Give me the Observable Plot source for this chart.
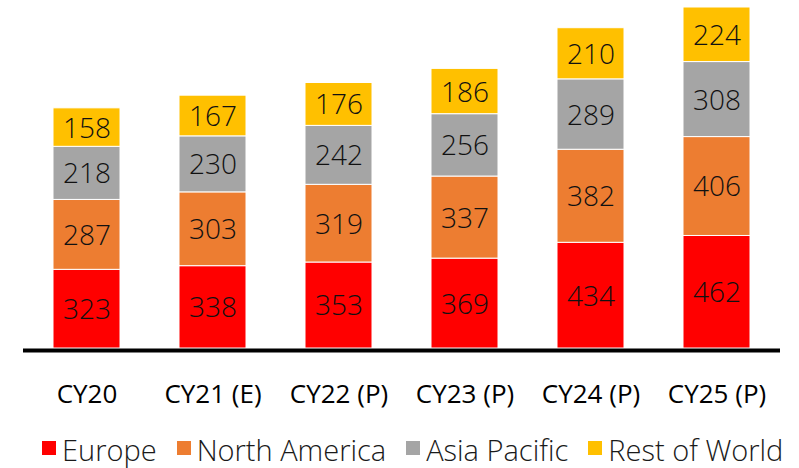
<!DOCTYPE html>
<html>
<head>
<meta charset="utf-8">
<script src="https://cdn.jsdelivr.net/npm/d3@7"></script>
<script src="https://cdn.jsdelivr.net/npm/@observablehq/plot@0.6"></script>
<style>
  html, body { margin: 0; padding: 0; background: #fff; }
  body { width: 799px; height: 468px; overflow: hidden; font-family: "Open Sans", sans-serif; }
  #chart svg { display: block; }
  #legend { display: flex; align-items: center; height: 36px; margin-top: 7px; padding-left: 42px; font-size: 29px; line-height: 36px; font-weight: 300; color: #1a1a1a; white-space: nowrap; }
  .item { display: flex; align-items: center; margin-right: 20px; }
  .sw { width: 14px; height: 14px; margin-right: 6px; position: relative; top: -2px; }
</style>
</head>
<body>
<div id="chart"></div>
<div id="legend"></div>
<script>
const categories = ["CY20", "CY21 (E)", "CY22 (P)", "CY23 (P)", "CY24 (P)", "CY25 (P)"];
const seriesNames = ["Europe", "North America", "Asia Pacific", "Rest of World"];
const seriesColors = ["#FF0000", "#ED7D31", "#A5A5A5", "#FFC000"];
const europe = [323, 338, 353, 369, 434, 462];
const northAmerica = [287, 303, 319, 337, 382, 406];
const asiaPacific = [218, 230, 242, 256, 289, 308];
const restOfWorld = [158, 167, 176, 186, 210, 224];

const seriesValues = [europe, northAmerica, asiaPacific, restOfWorld];
const data = [];
seriesNames.forEach((s, i) => {
  categories.forEach((c, j) => {
    data.push({category: c, series: s, value: seriesValues[i][j]});
  });
});

const chart = Plot.plot({
  width: 799,
  height: 425,
  marginTop: 7,
  marginBottom: 77,
  marginLeft: 23,
  marginRight: 19,
  style: {fontFamily: "'Open Sans', sans-serif", background: "white"},
  x: {domain: categories, paddingInner: 0.47, paddingOuter: 0.235, label: null, tickSize: 0, tickPadding: 36, fontSize: 26},
  y: {domain: [0, 1400], axis: null},
  color: {domain: seriesNames, range: seriesColors},
  marks: [
    Plot.barY(data, Plot.stackY({x: "category", y: "value", z: "series", fill: "series", stroke: "white", strokeWidth: 1})),
    Plot.textY(data, Plot.stackY({x: "category", y: "value", z: "series", text: d => String(d.value), fill: "#111", fontSize: 28, fontWeight: 300, dy: 1})),
    Plot.ruleY([0], {stroke: "black", strokeWidth: 4, dy: 2}),
    Plot.axisX({tickSize: 0, tickPadding: 36, fontSize: 26, fontWeight: 400, fill: "black", label: null})
  ]
});
document.getElementById("chart").appendChild(chart);

const legend = document.getElementById("legend");
seriesNames.forEach((s, i) => {
  const item = document.createElement("div");
  item.className = "item";
  const sw = document.createElement("div");
  sw.className = "sw";
  sw.style.background = seriesColors[i];
  const t = document.createElement("span");
  t.textContent = s;
  item.appendChild(sw);
  item.appendChild(t);
  legend.appendChild(item);
});
</script>
</body>
</html>
